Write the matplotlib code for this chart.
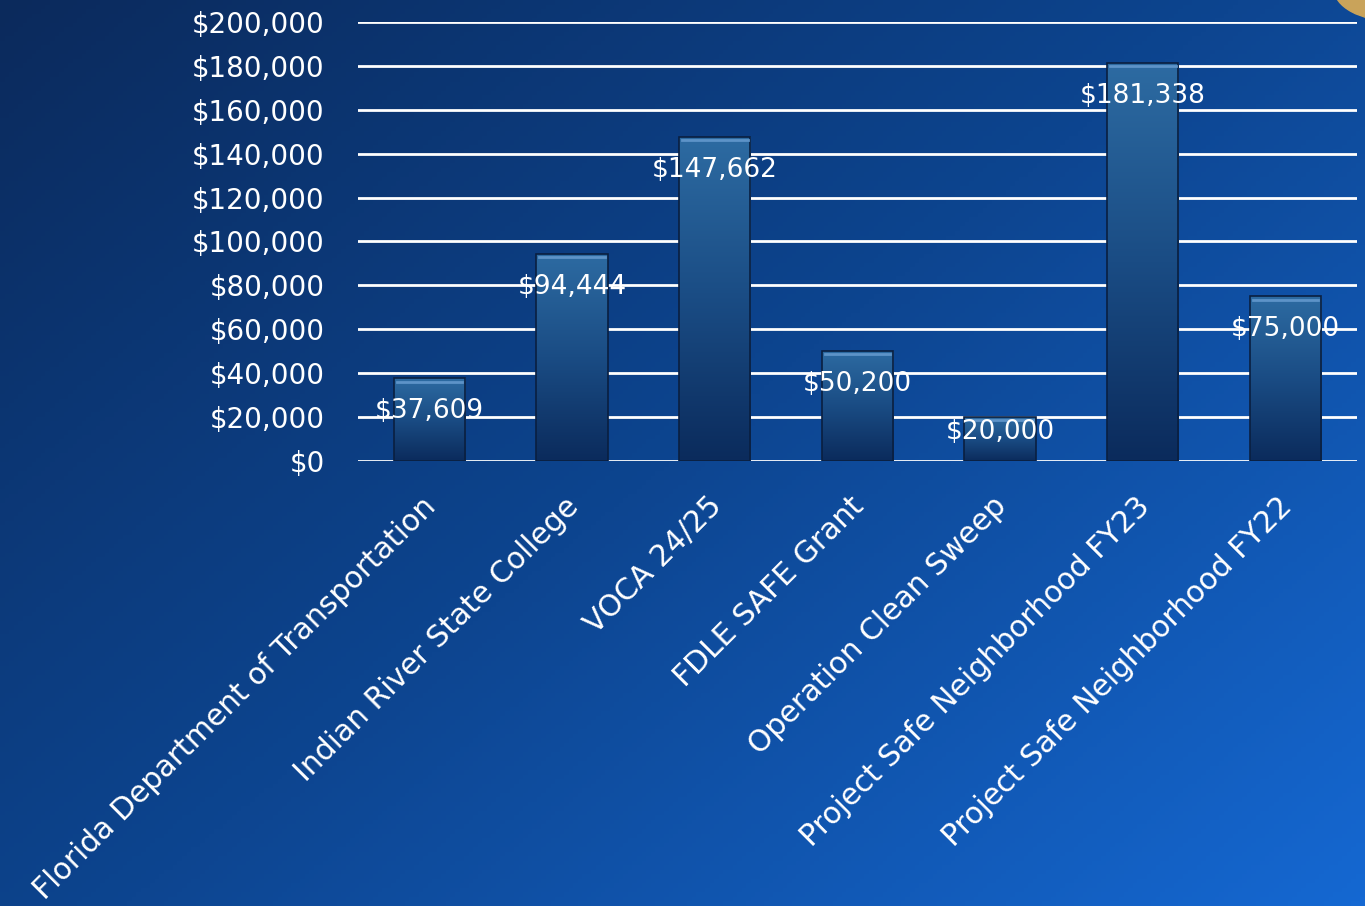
import numpy as np
import matplotlib.pyplot as plt
import matplotlib.transforms as mtransforms
from matplotlib.colors import LinearSegmentedColormap
from matplotlib.patches import Ellipse

categories = ['Florida Department of Transportation', 'Indian River State College',
              'VOCA 24/25', 'FDLE SAFE Grant', 'Operation Clean Sweep',
              'Project Safe Neighborhood FY23', 'Project Safe Neighborhood FY22']
amounts = [37609, 94444, 147662, 50200, 20000, 181338, 75000]
yticks = list(range(0, 200001, 20000))

fig = plt.figure(figsize=(13.65, 9.06), dpi=100)

# background gradient (dark navy top-left -> bright blue bottom-right)
bg = fig.add_axes([0, 0, 1, 1], zorder=-10)
gx, gy = np.meshgrid(np.linspace(0, 1, 300), np.linspace(0, 1, 200))
t = 0.55 * gx + 0.45 * gy
bg_cmap = LinearSegmentedColormap.from_list('bg', ['#0b2a5c', '#0d4590', '#1568d2'])
bg.imshow(t, cmap=bg_cmap, aspect='auto', extent=[0, 1, 1, 0])
bg.set_xlim(0, 1)
bg.set_ylim(1, 0)
# gold swoosh peeking in at the top-right corner
bg.add_patch(Ellipse((1.02, -0.012), 0.085, 0.07, color='#c9a35a'))
bg.axis('off')

ax = fig.add_axes([0.2623, 0.4912, 0.7317, 0.4845])
ax.patch.set_alpha(0)
x = np.arange(len(categories))

for v in yticks:
    ax.axhline(v, color='white', lw=2, zorder=1)

bar_cmap = LinearSegmentedColormap.from_list('bar', ['#0b2b5c', '#1a4c84', '#2d6ba2'])
grad = np.linspace(0, 1, 256).reshape(-1, 1)
bars = ax.bar(x, amounts, width=0.5, color='none', edgecolor='#0a1f40', lw=1.2, zorder=3)
for b in bars:
    x0, w, h = b.get_x(), b.get_width(), b.get_height()
    im = ax.imshow(grad, cmap=bar_cmap, aspect='auto', origin='lower',
                   extent=[x0, x0 + w, 0, h], zorder=2)
    im.set_clip_path(b)
    ax.plot([x0 + 0.02, x0 + w - 0.02], [h - 1500, h - 1500], color='#5d93c8', lw=2, zorder=4)

ax.set_xlim(-0.5, len(categories) - 0.5)
ax.set_ylim(0, 200000)

for xi, v in zip(x, amounts):
    ax.text(xi, max(v - 15000, 13000), f'${v:,}', color='white', fontsize=19,
            ha='center', va='center', zorder=5)

ax.set_yticks(yticks)
ax.set_yticklabels([f'${v:,}' for v in yticks], color='white', fontsize=20)
ax.set_xticks(x)
ax.set_xticklabels(categories, rotation=45, ha='right', va='top',
                   rotation_mode='anchor', color='white', fontsize=21.5)
ax.tick_params(length=0, pad=24, axis='y')
ax.tick_params(length=0, pad=22, axis='x')
shift = mtransforms.ScaledTranslation(-0.08, 0, fig.dpi_scale_trans)
for lbl in ax.get_xticklabels():
    lbl.set_transform(lbl.get_transform() + shift)
for s in ax.spines.values():
    s.set_visible(False)

fig.savefig('out.png', dpi=100)
